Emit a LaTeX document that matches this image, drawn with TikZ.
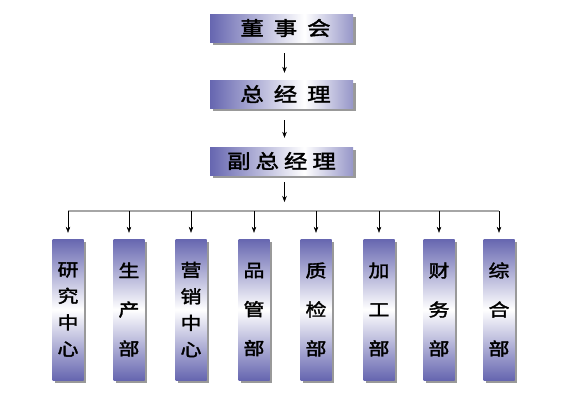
\documentclass[tikz,border=0pt]{standalone}
\usepackage{fontspec}
\newfontfamily\cjk[FakeBold=2,FakeStretch=1.2]{Noto Sans CJK SC}
\usetikzlibrary{arrows.meta,shadows}
\definecolor{barblue}{RGB}{102,102,176}
\definecolor{barend}{RGB}{150,150,200}
% bar shadings (box spans 25bp..75bp)
\pgfdeclarehorizontalshading{hbar}{100bp}{color(0bp)=(barblue); color(25bp)=(barblue); color(58bp)=(white); color(75bp)=(barend); color(100bp)=(barend)}
\pgfdeclareverticalshading{vbar}{100bp}{color(0bp)=(barblue); color(25bp)=(barblue); color(50bp)=(white); color(75bp)=(barblue); color(100bp)=(barblue)}
\begin{document}
\begin{tikzpicture}[x=1pt,y=-1pt,
  boxshadow/.style={drop shadow={shadow xshift=2.5pt,shadow yshift=-2.5pt,fill=black,opacity=.4}},
  head/.style={shading=hbar,boxshadow,minimum width=143pt,minimum height=28pt,inner sep=0pt,font=\cjk\fontsize{19.5}{19.5}\selectfont},
  dept/.style={shading=vbar,boxshadow,minimum width=31pt,minimum height=141pt,inner sep=0pt,align=center},
  four/.style={font=\cjk\fontsize{17.5}{26.5}\selectfont},
  three/.style={font=\cjk\fontsize{17.5}{39}\selectfont},
  arr/.style={-{Stealth[length=6pt,width=4.5pt]},thin},
  busline/.style={line width=2.2pt,gray!70}]
\useasboundingbox (0,0) rectangle (570,400);
% top chain
\node[head] (board) at (281.5,28) {\hspace*{8pt}董\hspace{10pt}事\hspace{10pt}会};
\node[head] (gm) at (281.5,94) {\hspace*{8pt}总\hspace{10pt}经\hspace{10pt}理};
\node[head] (vgm) at (281.5,161) {副\hspace{5pt}总\hspace{5pt}经\hspace{5pt}理};
\coordinate (bus) at (0,211);
\draw[arr,shorten <=11pt,shorten >=7pt] ([xshift=3pt]board.south) -- ([xshift=3pt]gm.north);
\draw[arr,shorten <=12pt,shorten >=9pt] ([xshift=3pt]gm.south) -- ([xshift=3pt]vgm.north);
\draw[arr,shorten <=7pt,shorten >=9pt] ([xshift=3pt]vgm.south) -- ([xshift=3pt]vgm.south |- bus);
% departments
\node[dept,four] (d1) at (68,309.5) {研\\究\\中\\心};
\node[dept,three] (d2) at (129,309.5) {生\\产\\部};
\node[dept,four] (d3) at (191,309.5) {营\\销\\中\\心};
\node[dept,three] (d4) at (254,309.5) {品\\管\\部};
\node[dept,three] (d5) at (316,309.5) {质\\检\\部};
\node[dept,three] (d6) at (379,309.5) {加\\工\\部};
\node[dept,three] (d7) at (439,309.5) {财\\务\\部};
\node[dept,three] (d8) at (499,309.5) {综\\合\\部};
% bus and drops
\draw[busline] (d1.north |- bus) -- (d8.north |- bus);
\foreach \i in {1,...,8}
  \draw[arr,shorten >=6pt] (d\i.north |- bus) -- (d\i.north);
\end{tikzpicture}
\end{document}
